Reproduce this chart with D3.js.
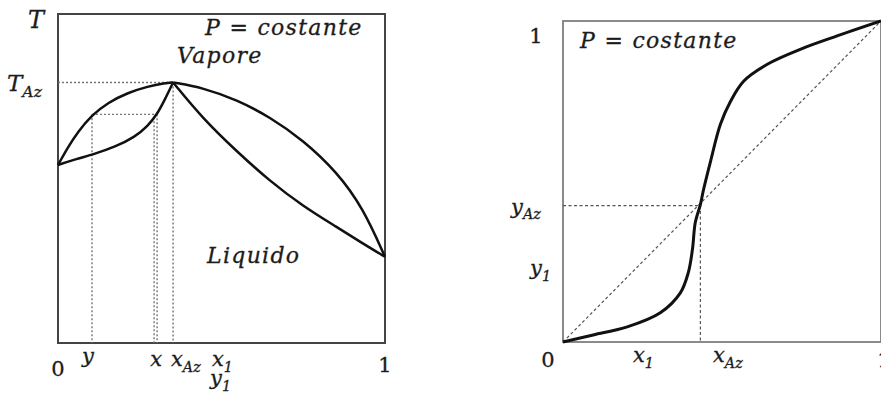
<!DOCTYPE html>
<html>
<head>
<meta charset="utf-8">
<script src="https://cdn.jsdelivr.net/npm/d3@7"></script>
<style>
  html, body { margin: 0; padding: 0; background: #fff; }
  svg { display: block; }
  text { font-family: "DejaVu Serif", "Liberation Serif", serif; font-style: italic; fill: #1c1c1c;
         stroke: #1c1c1c; stroke-width: 0.3px; }
  .num { font-style: normal; }
  .wide { letter-spacing: 1.3px; }
</style>
</head>
<body>
<svg id="chart" width="881" height="394"></svg>
<script>
// ---- T-x,y diagram (maximum-boiling azeotrope), T on an arbitrary 0..100 scale ----
const xAzLeft = 0.352;
const tAz = 79.2;
const tieT = 69.5;
const tieY = 0.104;
const tieX = 0.303;

// dew / bubble branches left of the azeotrope
const dewLeft = [[0, 54.1], [0.031, 59.6], [0.061, 64.2], [0.104, 69.3], [0.153, 73.1], [0.214, 76.1],
  [0.275, 78.0], [0.327, 79.0], [0.352, 79.2]];
const bubbleLeft = [[0, 54.1], [0.052, 55.8], [0.113, 57.5], [0.174, 59.6], [0.235, 62.6], [0.275, 66.0],
  [0.303, 69.5], [0.327, 74.0], [0.352, 79.2]];
// dew / bubble branches right of the azeotrope
const dewRight = [[0.352, 79.2], [0.443, 77.6], [0.547, 73.9], [0.648, 68.7], [0.749, 61.7], [0.853, 52.0],
  [0.933, 41.0], [1, 26.2]];
const bubbleRight = [[0.352, 79.2], [0.443, 68.2], [0.547, 58.2], [0.648, 49.2], [0.749, 41.6], [0.853, 35.2],
  [0.933, 30.2], [1, 26.2]];

// ---- y-x diagram ----
const xAzRight = 0.432;
const yAzRight = 0.425;
const yxCurve = [[0, 0], [0.095, 0.022], [0.202, 0.047], [0.306, 0.091], [0.369, 0.153], [0.394, 0.216],
  [0.407, 0.288], [0.416, 0.372], [0.432, 0.428], [0.442, 0.475], [0.464, 0.563], [0.495, 0.678],
  [0.527, 0.75], [0.568, 0.8125], [0.644, 0.866], [0.748, 0.9125], [0.852, 0.95], [1, 1]];

const svg = d3.select("#chart");

function label(g, x, y, main, sub, size, anchor, cls) {
  const t = g.append("text").attr("x", x).attr("y", y)
    .attr("font-size", size).attr("text-anchor", anchor || "start");
  if (cls) t.attr("class", cls);
  t.append("tspan").text(main);
  if (sub) t.append("tspan").attr("dy", size * 0.28).attr("font-size", size * 0.68).text(sub);
  return t;
}

// ===== left panel =====
const xL = d3.scaleLinear().domain([0, 1]).range([58, 385]);
const tL = d3.scaleLinear().domain([0, 100]).range([343, 14]);
const gL = svg.append("g");

gL.append("rect")
  .attr("x", xL(0)).attr("y", tL(100))
  .attr("width", xL(1) - xL(0)).attr("height", tL(0) - tL(100))
  .attr("fill", "none").attr("stroke", "#444").attr("stroke-width", 2);

const dotted = (g, x1, y1, x2, y2) => g.append("line")
  .attr("x1", x1).attr("y1", y1).attr("x2", x2).attr("y2", y2)
  .attr("stroke", "#777").attr("stroke-width", 1.4).attr("stroke-dasharray", "2,2");

dotted(gL, xL(0), tL(tAz), xL(xAzLeft), tL(tAz));
dotted(gL, xL(xAzLeft), tL(tAz), xL(xAzLeft), tL(0));
dotted(gL, xL(tieY), tL(tieT), xL(tieX), tL(tieT));
dotted(gL, xL(tieY), tL(tieT), xL(tieY), tL(0));
dotted(gL, xL(tieX), tL(tieT), xL(tieX), tL(0));
dotted(gL, xL(tieX) - 3, tL(tieT) + 3, xL(tieX) - 3, tL(0));

// B-spline keeps the hand-drawn branches smooth while still meeting at the end points
const lineL = d3.line().x(d => xL(d[0])).y(d => tL(d[1])).curve(d3.curveBasis);
[dewLeft, bubbleLeft, dewRight, bubbleRight].forEach(s => {
  gL.append("path").attr("d", lineL(s))
    .attr("fill", "none").attr("stroke", "#111").attr("stroke-width", 2.5);
});

label(gL, 36, 28, "T", null, 24, "middle");
label(gL, 7, 91, "T", "Az", 23);
label(gL, 205, 35, "P = costante", null, 22, "start", "wide");
label(gL, 177, 63, "Vapore", null, 22, "start", "wide");
label(gL, 207, 263, "Liquido", null, 22, "start", "wide");

const baseL = 366;
label(gL, xL(0), baseL + 10, "0", null, 21, "middle", "num");
label(gL, xL(tieY) - 4, baseL - 3, "y", null, 21, "middle");
label(gL, xL(tieX) - 1, baseL, "x", null, 21, "middle");
label(gL, 171, baseL, "x", "Az", 21);
label(gL, 212, baseL, "x", "1", 21);
label(gL, 210, baseL + 19, "y", "1", 21);
label(gL, xL(1), baseL + 6, "1", null, 21, "middle", "num");

// ===== right panel =====
const xR = d3.scaleLinear().domain([0, 1]).range([563, 881]);
const yR = d3.scaleLinear().domain([0, 1]).range([342, 21]);
const gR = svg.append("g");

gR.append("rect")
  .attr("x", xR(0)).attr("y", yR(1))
  .attr("width", xR(1) - xR(0)).attr("height", yR(0) - yR(1))
  .attr("fill", "none").attr("stroke", "#777").attr("stroke-width", 1.7);

const dashed = (x1, y1, x2, y2) => gR.append("line")
  .attr("x1", x1).attr("y1", y1).attr("x2", x2).attr("y2", y2)
  .attr("stroke", "#555").attr("stroke-width", 1.2).attr("stroke-dasharray", "3,2.5");

dashed(xR(0), yR(0), xR(1), yR(1));
dashed(xR(0), yR(yAzRight), xR(xAzRight), yR(yAzRight));
dashed(xR(xAzRight), yR(yAzRight), xR(xAzRight), yR(0));

const lineR = d3.line().x(d => xR(d[0])).y(d => yR(d[1])).curve(d3.curveCatmullRom.alpha(0.5));
gR.append("path").attr("d", lineR(yxCurve))
  .attr("fill", "none").attr("stroke", "#111").attr("stroke-width", 3);

label(gR, 536, 43, "1", null, 21, "middle", "num");
label(gR, 580, 48, "P = costante", null, 22, "start", "wide");
label(gR, 511, yR(yAzRight) + 8, "y", "Az", 21);
label(gR, 530, 275, "y", "1", 21);
label(gR, 548, 367, "0", null, 21, "middle", "num");
label(gR, 633, 362, "x", "1", 21);
label(gR, 713, 362, "x", "Az", 21);
label(gR, 884, 367, "1", null, 21, "middle", "num");
</script>
</body>
</html>
